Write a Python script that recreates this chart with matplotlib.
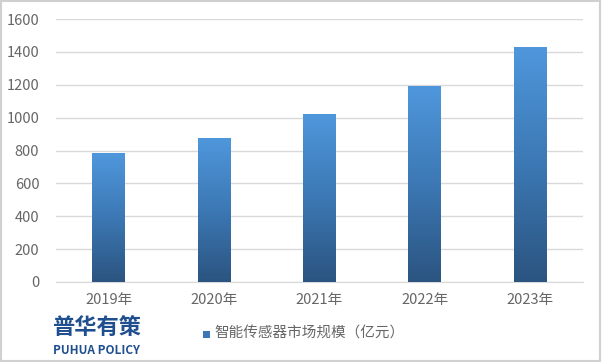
import matplotlib
matplotlib.use("Agg")
import matplotlib.pyplot as plt
import numpy as np
from matplotlib.colors import LinearSegmentedColormap
from matplotlib.patches import Rectangle

plt.rcParams['font.family'] = ['Noto Sans CJK SC', 'DejaVu Sans']

categories = ["2019年", "2020年", "2021年", "2022年", "2023年"]
values = [784, 876, 1020, 1190, 1430]
series_name = "智能传感器市场规模（亿元）"
yticks = [0, 200, 400, 600, 800, 1000, 1200, 1400, 1600]

fig = plt.figure(figsize=(6.02, 3.62), dpi=100)
fig.patch.set_facecolor("white")
ax = fig.add_axes([0.093, 0.221, 0.875, 0.7265])

x = np.arange(len(categories))
width = 0.31
bars = ax.bar(x, values, width=width, color="none", edgecolor="none", zorder=3)

cmap = LinearSegmentedColormap.from_list("g", ["#2b5480", "#3c78b4", "#4f97dc"])
grad = np.linspace(0, 1, 256).reshape(-1, 1)
for b in bars:
    x0, y0 = b.get_x(), b.get_y()
    w, h = b.get_width(), b.get_height()
    im = ax.imshow(grad, cmap=cmap, aspect="auto", origin="lower",
                   extent=[x0, x0 + w, y0, y0 + h], zorder=3)
    im.set_clip_path(b)

ax.set_xlim(-0.5, len(categories) - 0.5)
ax.set_ylim(0, 1600)
ax.set_yticks(yticks)
ax.set_xticks(x)
ax.set_xticklabels(categories)
ax.yaxis.grid(True, color="#d9d9d9", linewidth=1.0, zorder=0)
ax.set_axisbelow(True)
for s in ["top", "right", "left"]:
    ax.spines[s].set_visible(False)
ax.spines["bottom"].set_color("#d9d9d9")
ax.tick_params(axis="both", length=0, labelsize=10.5, colors="#666666")
ax.tick_params(axis="y", pad=12)
ax.tick_params(axis="x", pad=8)

# legend
fig.patches.append(Rectangle((203 / 602, 1 - 338 / 362), 7 / 602, 7 / 362,
                             transform=fig.transFigure, facecolor="#3c78b4",
                             edgecolor="none"))
fig.text(214 / 602, 1 - 334 / 362, series_name, fontsize=10.5, color="#666666",
         va="center", ha="left")

# logo
fig.text(52 / 602, 1 - 327 / 362, "普华有策", fontsize=16, fontweight="heavy",
         color="#1f4f8f", va="center", ha="left")
fig.text(53 / 602, 1 - 351 / 362, "PUHUA POLICY", fontsize=8.5, fontweight="bold",
         color="#1f4f8f", va="center", ha="left")

# outer border
fig.patches.append(Rectangle((0.002, 0.003), 0.995, 0.993, transform=fig.transFigure,
                             facecolor="none", edgecolor="#d0d0d0", linewidth=1.5))

fig.savefig("out.png", dpi=100)
